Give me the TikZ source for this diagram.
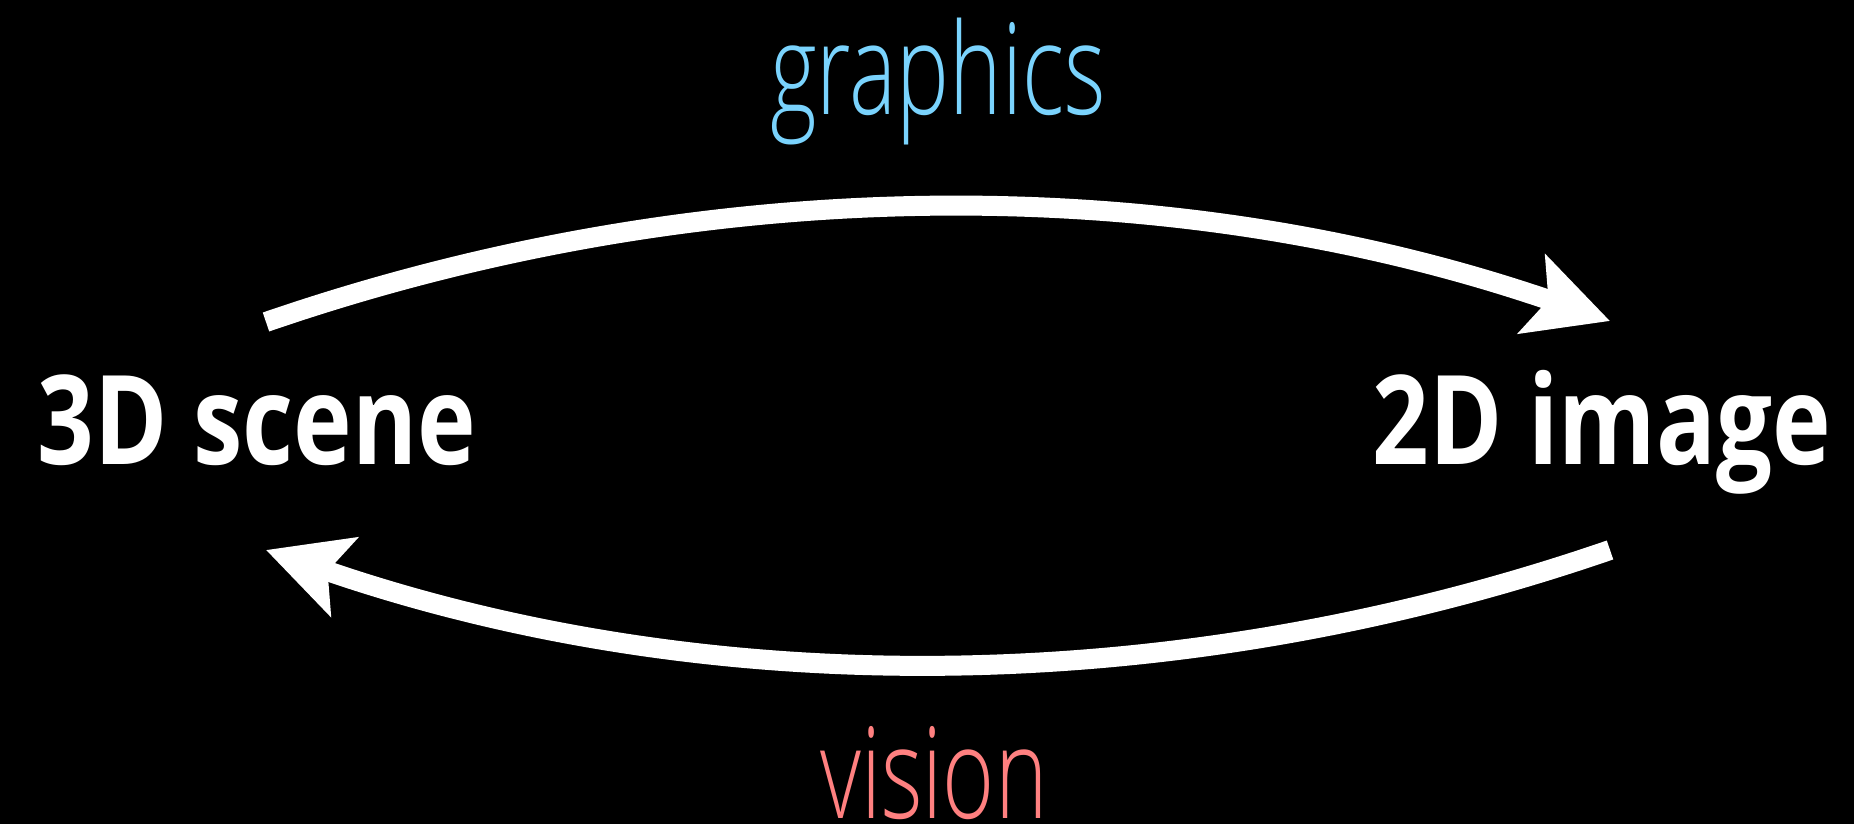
\documentclass[tikz,border=0pt]{standalone}
\usepackage{fontspec}
\setmainfont{Open Sans}
\newfontfamily\narrowfont{Open Sans Light}[FakeStretch=0.7]
\newfontfamily\narrowbold{Open Sans Bold}[FakeStretch=0.8]
\usetikzlibrary{arrows.meta}
\definecolor{graphicsblue}{RGB}{122,211,253}
\definecolor{visionred}{RGB}{255,128,128}

\begin{document}
\begin{tikzpicture}[x=0.25pt, y=0.25pt, every node/.style={inner sep=0pt, anchor=base},
    endname/.style={font=\fontsize{31}{38}\narrowbold, text=white},
    arcname/.style={font=\fontsize{31.75}{38}\narrowfont},
    bigarrow/.style={line width=5pt, white, -{Stealth[length=20.5pt, width=20.5pt, inset=4.25pt]}}]
    \fill[black] (0,0) rectangle (1854,824);
    \useasboundingbox (0,0) rectangle (1854,824);

    \node[endname] (scene) at (257,359) {3D scene};
    \node[endname] (image) at (1602,359) {2D image};
    \node[arcname, text=graphicsblue] (graphics) at (938,709) {graphics};
    \node[arcname, text=visionred] (vision) at (934,5) {vision};

    \draw[bigarrow] ([shift={(9,143)}]scene.base) .. controls +(19:464) and +(161:464) .. ([shift={(8,144)}]image.base);
    \draw[bigarrow] ([shift={(8,-85)}]image.base) .. controls +(199:464) and +(-19:464) .. ([shift={(9,-85)}]scene.base);
\end{tikzpicture}
\end{document}
